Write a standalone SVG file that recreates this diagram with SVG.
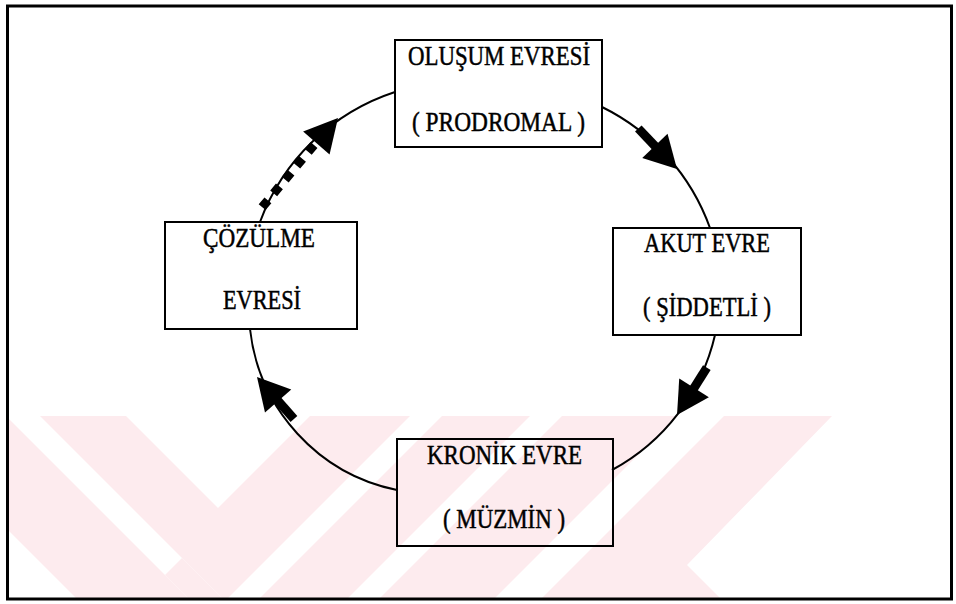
<svg xmlns="http://www.w3.org/2000/svg" width="956" height="604" viewBox="0 0 956 604">
  <defs>
    <style>
      .frame{fill:none;stroke:#000;stroke-width:3}
      .box{fill:none;stroke:#000;stroke-width:2}
      .arc{fill:none;stroke:#000;stroke-width:2}
      .dash{fill:none;stroke:#000;stroke-width:9;stroke-dasharray:9 9}
      .lbl{font-family:"Liberation Serif","Times New Roman",serif;font-size:28px;fill:#000;stroke:#000;stroke-width:0.5}
      .wm{fill:#fdebee}
    </style>
    <clipPath id="wmClip"><rect x="9" y="416" width="942" height="182"/></clipPath>
    <!-- block arrow: tip at origin, pointing along +x -->
    <g id="arrow">
      <polygon points="0,0 -32,-17.5 -32,17.5"/>
      <rect x="-56" y="-4.5" width="26" height="9"/>
    </g>
    <polygon id="arrowHead" points="0,0 -33,-17.5 -33,17.5"/>
  </defs>

  <rect width="956" height="604" fill="#fff"/>

  <!-- light background mark in the lower half -->
  <g id="watermark" clip-path="url(#wmClip)">
    <polygon class="wm" points="-106,416 6,416 188,598 76,598"/>
    <polygon class="wm" points="165,575 182,558 222,598 188,598"/>
    <polygon class="wm" points="40,416 126,416 218,508 310,416 410,416 228,598 222,598"/>
    <polygon class="wm" points="442,416 530,416 348,598 260,598"/>
    <polygon class="wm" points="562,416 677,416 495,598 380,598"/>
    <polygon class="wm" points="724,416 832,416 687,565 720,598 542,598"/>
  </g>

  <rect class="frame" x="7.5" y="6" width="944" height="593"/>

  <!-- connectors -->
  <g id="connectors">
    <path class="arc" d="M602,107 A216,216 0 0 1 710,228"/>
    <path class="arc" d="M715,335 A206,206 0 0 1 612,470"/>
    <path class="arc" d="M397,490 A185,185 0 0 1 250,329"/>
    <path class="arc" d="M260,222 A215,215 0 0 1 395,92"/>
    <use href="#arrow" transform="translate(677,169) rotate(46.3)"/>
    <use href="#arrow" transform="translate(677,415) rotate(122.2)"/>
    <use href="#arrow" transform="translate(257,377) rotate(228.7)"/>
    <path class="dash" d="M314,145 L259,211"/>
    <use href="#arrowHead" transform="translate(338,118) rotate(-49)"/>
  </g>

  <g id="node-olusum">
    <rect class="box" x="395" y="40" width="207" height="107"/>
    <text class="lbl" x="408" y="65" textLength="182" lengthAdjust="spacingAndGlyphs">OLUŞUM EVRESİ</text>
    <text class="lbl" x="412" y="131" textLength="173" lengthAdjust="spacingAndGlyphs">( PRODROMAL )</text>
  </g>

  <g id="node-akut">
    <rect class="box" x="613" y="228" width="188" height="107"/>
    <text class="lbl" x="644" y="252" textLength="126" lengthAdjust="spacingAndGlyphs">AKUT EVRE</text>
    <text class="lbl" x="643" y="316" textLength="128" lengthAdjust="spacingAndGlyphs">( ŞİDDETLİ )</text>
  </g>

  <g id="node-kronik">
    <rect class="box" x="397" y="439" width="216" height="107"/>
    <text class="lbl" x="427" y="464" textLength="155" lengthAdjust="spacingAndGlyphs">KRONİK EVRE</text>
    <text class="lbl" x="443" y="528" textLength="122" lengthAdjust="spacingAndGlyphs">( MÜZMİN )</text>
  </g>

  <g id="node-cozulme">
    <rect class="box" x="165" y="222" width="192" height="107"/>
    <text class="lbl" x="203" y="247" textLength="112" lengthAdjust="spacingAndGlyphs">ÇÖZÜLME</text>
    <text class="lbl" x="223" y="309" textLength="78" lengthAdjust="spacingAndGlyphs">EVRESİ</text>
  </g>
</svg>
